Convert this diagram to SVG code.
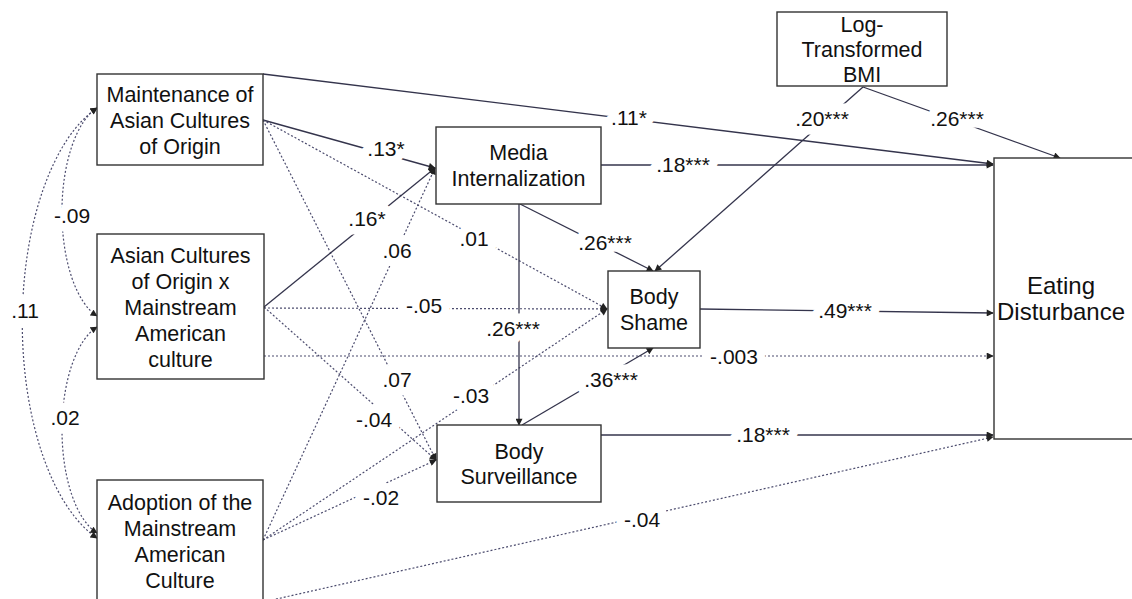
<svg xmlns="http://www.w3.org/2000/svg" width="1132" height="599" viewBox="0 0 1132 599">
<style>
.box{fill:#fff;stroke:#333;stroke-width:1.4}
.t{font-family:"Liberation Sans",Arial,sans-serif;font-size:21.5px;fill:#111;text-anchor:middle}
.big{font-size:24px}
.lab{font-family:"Liberation Sans",Arial,sans-serif;font-size:21px;fill:#111;text-anchor:middle;stroke:#fff;stroke-width:17;stroke-linejoin:round;paint-order:stroke}
.s{fill:none;stroke:#34344c;stroke-width:1.3;marker-end:url(#ah)}
.d{fill:none;stroke:#4c4c6e;stroke-width:1.2;stroke-dasharray:2 2;marker-end:url(#ah)}
.c{fill:none;stroke:#4c4c6e;stroke-width:1.2;stroke-dasharray:2 2;marker-end:url(#ah);marker-start:url(#ah)}
</style>
<defs>
<marker id="ah" viewBox="0 0 10 10" refX="9" refY="5" markerWidth="8" markerHeight="7" markerUnits="userSpaceOnUse" orient="auto-start-reverse">
<path d="M0,0 L10,5 L0,10 z" fill="#222"/>
</marker>
</defs>
<rect width="1132" height="599" fill="#fff"/>
<g id="connectors">
<path class="s" d="M263,74 L993,164"/>
<path class="s" d="M263,120 L435,168"/>
<path class="d" d="M263,120 L607,309"/>
<path class="d" d="M263,120 L436,460"/>
<path class="s" d="M264,307 L435,168"/>
<path class="d" d="M264,308 L607,309"/>
<path class="d" d="M264,307 L436,460"/>
<path class="d" d="M264,356 L993,356"/>
<path class="d" d="M263,540 L435,168"/>
<path class="d" d="M263,540 L607,309"/>
<path class="d" d="M263,540 L436,460"/>
<path class="d" d="M272,600 L993,437"/>
<path class="s" d="M601,165 L993,165"/>
<path class="s" d="M520,204 L653,271"/>
<path class="s" d="M519,204 L519,425"/>
<path class="s" d="M522,425 L653,348"/>
<path class="s" d="M601,435 L993,435"/>
<path class="s" d="M700,309 L993,313"/>
<path class="s" d="M863,87 L655,271"/>
<path class="s" d="M863,87 L1060,158"/>
<path class="c" d="M97,108 A108,226 0 0 0 97,538"/>
<path class="c" d="M97,108 A48,108 0 0 0 97,316"/>
<path class="c" d="M97,327 A48,107 0 0 0 97,533"/>
<g id="labels">
<text class="lab" x="629" y="125">.11*</text>
<text class="lab" x="386" y="156">.13*</text>
<text class="lab" x="367" y="226">.16*</text>
<text class="lab" x="397" y="258">.06</text>
<text class="lab" x="474" y="246">.01</text>
<text class="lab" x="424" y="313">-.05</text>
<text class="lab" x="513" y="336">.26***</text>
<text class="lab" x="605" y="250">.26***</text>
<text class="lab" x="397" y="387">.07</text>
<text class="lab" x="471" y="403">-.03</text>
<text class="lab" x="374" y="427">-.04</text>
<text class="lab" x="381" y="505">-.02</text>
<text class="lab" x="611" y="387">.36***</text>
<text class="lab" x="822" y="126">.20***</text>
<text class="lab" x="957" y="126">.26***</text>
<text class="lab" x="683" y="172">.18***</text>
<text class="lab" x="845" y="318">.49***</text>
<text class="lab" x="734" y="364">-.003</text>
<text class="lab" x="763" y="442">.18***</text>
<text class="lab" x="642" y="527">-.04</text>
<text class="lab" x="72" y="223">-.09</text>
<text class="lab" x="25" y="318">.11</text>
<text class="lab" x="65" y="425">.02</text>
</g>
</g>
<g id="maintenance">
<rect class="box" x="97" y="74" width="166" height="91"/>
<text class="t" x="180" y="102">Maintenance of</text>
<text class="t" x="180" y="128">Asian Cultures</text>
<text class="t" x="180" y="154">of Origin</text>
</g>
<g id="interaction">
<rect class="box" x="97" y="234" width="167" height="145"/>
<text class="t" x="180.5" y="263">Asian Cultures</text>
<text class="t" x="180.5" y="289">of Origin x</text>
<text class="t" x="180.5" y="315">Mainstream</text>
<text class="t" x="180.5" y="341">American</text>
<text class="t" x="180.5" y="367">culture</text>
</g>
<g id="adoption">
<rect class="box" x="97" y="480" width="166" height="140"/>
<text class="t" x="180" y="510">Adoption of the</text>
<text class="t" x="180" y="536">Mainstream</text>
<text class="t" x="180" y="562">American</text>
<text class="t" x="180" y="588">Culture</text>
</g>
<g id="media">
<rect class="box" x="436" y="127" width="165" height="77"/>
<text class="t" x="518.5" y="160">Media</text>
<text class="t" x="518.5" y="186">Internalization</text>
</g>
<g id="bodyshame">
<rect class="box" x="608" y="271" width="92" height="77"/>
<text class="t" x="654" y="304">Body</text>
<text class="t" x="654" y="330">Shame</text>
</g>
<g id="surveillance">
<rect class="box" x="437" y="425" width="164" height="77"/>
<text class="t" x="519" y="459">Body</text>
<text class="t" x="519" y="484">Surveillance</text>
</g>
<g id="bmi">
<rect class="box" x="777" y="12" width="170" height="74"/>
<text class="t" x="862" y="32">Log-</text>
<text class="t" x="862" y="57">Transformed</text>
<text class="t" x="862" y="82">BMI</text>
</g>
<g id="eating">
<rect class="box" x="994" y="158" width="160" height="281"/>
<text class="t big" x="1061" y="294">Eating</text>
<text class="t big" x="1061" y="320">Disturbance</text>
</g>
</svg>
